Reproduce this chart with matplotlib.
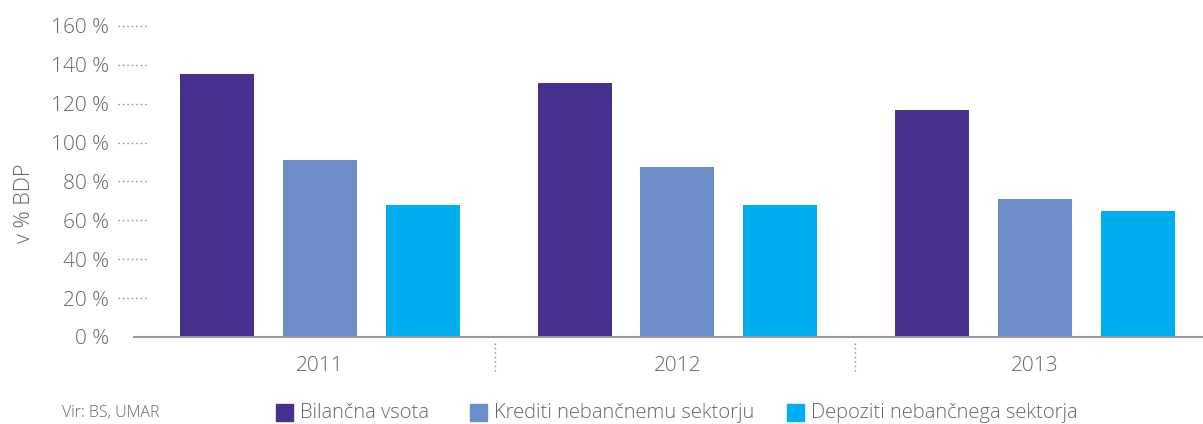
import matplotlib
matplotlib.use("Agg")
import matplotlib.pyplot as plt
import matplotlib.transforms as mtransforms
from matplotlib.patches import Rectangle
import numpy as np

years = ["2011", "2012", "2013"]
series_names = ["Bilančna vsota", "Krediti nebančnemu sektorju", "Depoziti nebančnega sektorja"]
bilancna = [135.4, 130.8, 116.9]
krediti = [91.1, 87.5, 71.1]
depoziti = [68.0, 68.0, 64.9]
yticks = [0, 20, 40, 60, 80, 100, 120, 140, 160]
ytick_labels = ["0 %", "20 %", "40 %", "60 %", "80 %", "100 %", "120 %", "140 %", "160 %"]
colors = ["#48308E", "#6C8DC7", "#00AEEF"]
ylabel = "v % BDP"
source = "Vir: BS, UMAR"

plt.rcParams['font.family'] = ['Open Sans', 'DejaVu Sans']
plt.rcParams['font.weight'] = 'light'
TXT = "#666666"

W, H = 1203, 424
fig = plt.figure(figsize=(W / 100, H / 100), dpi=100)
left_px, top_px, bottom_px = 133.5, 26, 337
ax = fig.add_axes([left_px / W, 1 - bottom_px / H, 1 - left_px / W, (bottom_px - top_px) / H])

x = np.arange(len(years))
offset = 0.2874
width = 0.207
for i, vals in enumerate([bilancna, krediti, depoziti]):
    ax.bar(x + (i - 1) * offset, vals, width=width, color=colors[i], zorder=2)

ax.set_xlim(-0.5217, 2.47)
ax.set_ylim(0, 160)
for s in ["top", "right", "left"]:
    ax.spines[s].set_visible(False)
ax.spines["bottom"].set_color("#999999")
ax.spines["bottom"].set_linewidth(1.5)

ax.set_yticks(yticks)
ax.set_yticklabels(ytick_labels)
ax.tick_params(axis="y", length=0, pad=17.5, labelsize=15, labelcolor=TXT)
ax.set_xticks(x)
ax.set_xticklabels(years)
ax.tick_params(axis="x", length=0, pad=13.5, labelsize=15, labelcolor=TXT)

# dotted tick marks on y-axis
trans = mtransforms.blended_transform_factory(fig.transFigure, ax.transData)
for yv in yticks[1:]:
    ax.plot([118 / W, 148 / W], [yv, yv], transform=trans, color="#888888",
            lw=1.0, ls=(0, (1, 2.2)), clip_on=False)

# dotted group dividers
transx = mtransforms.blended_transform_factory(ax.transData, fig.transFigure)
for xd in [0.49, 1.497]:
    ax.plot([xd, xd], [1 - 343 / H, 1 - 373 / H], transform=transx, color="#888888",
            lw=1.0, ls=(0, (1, 2.2)), clip_on=False)

fig.text(25 / W, 1 - 203 / H, ylabel, rotation=90, ha="center", va="center",
         fontsize=15.5, color=TXT)
fig.text(62 / W, 1 - 413 / H, source, ha="left", va="center", fontsize=11.5, color=TXT)

# legend
sq_x = [276, 470, 787]
for i, name in enumerate(series_names):
    fig.patches.append(Rectangle((sq_x[i] / W, 1 - 421 / H), 17 / W, 17 / H,
                                 transform=fig.transFigure, color=colors[i]))
    fig.text((sq_x[i] + 24) / W, 1 - 412.5 / H, name, ha="left", va="center",
             fontsize=14.5, color=TXT)

fig.savefig("out.png", dpi=100)
